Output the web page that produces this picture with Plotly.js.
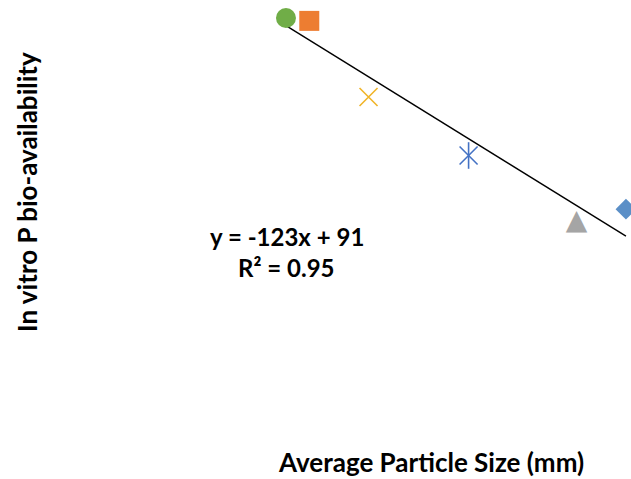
<!DOCTYPE html>
<html>
<head>
<meta charset="utf-8">
<script src="https://cdn.plot.ly/plotly-3.0.1.min.js"></script>
<style>html,body{margin:0;padding:0;background:#fff;}#chart{width:631px;height:479px;}</style>
</head>
<body>
<div id="chart"></div>
<script>
// Data (particle size in mm, in vitro P bio-availability)
var sampleNames = ["Circle", "Square", "Cross", "Star", "Triangle", "Diamond"];
var particleSize = [0.15, 0.174, 0.235, 0.338, 0.449, 0.50];
var bioAvailability = [74.2, 73.6, 58.0, 46.0, 32.3, 35.0];
var equationText = "y = -123x + 91";
var r2Text = "R\u00b2 = 0.95";
var xTitle = "Average Particle Size (mm)";
var yTitle = "In vitro P bio-availability";

// least-squares trendline computed from the data
var n = particleSize.length, mx = 0, my = 0;
for (var i = 0; i < n; i++) { mx += particleSize[i]; my += bioAvailability[i]; }
mx /= n; my /= n;
var sxy = 0, sxx = 0;
for (var i = 0; i < n; i++) { sxy += (particleSize[i]-mx)*(bioAvailability[i]-my); sxx += (particleSize[i]-mx)*(particleSize[i]-mx); }
var slope = sxy / sxx, intercept = my - slope * mx;
var xmin = Math.min.apply(null, particleSize), xmax = Math.max.apply(null, particleSize);

var styles = [
  {symbol: "circle", size: 20, color: "#70AD47", line: {width: 0}},
  {symbol: "square", size: 20, color: "#ED7D31", line: {width: 0}},
  {symbol: "x-thin-open", size: 18, color: "#F0B428", line: {width: 1.6, color: "#F0B428"}},
  {symbol: "x-thin-open", size: 18, color: "#4472C4", line: {width: 1.6, color: "#4472C4"}},
  null,
  {symbol: "diamond", size: 16, color: "#5B8FC7", line: {width: 0}}
];

var traces = [{
  x: [xmin, xmax], y: [slope*xmin + intercept, slope*xmax + intercept],
  mode: "lines", line: {color: "#000000", width: 1.4}, hoverinfo: "skip", showlegend: false
}];
for (var i = 0; i < n; i++) {
  if (styles[i] === null) {
    // Excel-style (taller) triangle drawn as a glyph
    traces.push({x: [particleSize[i]], y: [bioAvailability[i]], mode: "text", name: sampleNames[i],
      text: ["\u25B2"], textposition: "middle center", showlegend: false, cliponaxis: true,
      textfont: {family: "DejaVu Sans", size: 28, color: "#A5A5A5"}});
  } else {
    traces.push({x: [particleSize[i]], y: [bioAvailability[i]], mode: "markers", name: sampleNames[i],
      marker: styles[i], showlegend: false, cliponaxis: true});
  }
}
// vertical arm of the star marker
traces.push({x: [particleSize[3]], y: [bioAvailability[3]], mode: "markers", showlegend: false, hoverinfo: "skip",
  marker: {symbol: "line-ns-open", size: 19, color: "#4472C4", line: {width: 1.6, color: "#4472C4"}}});

var layout = {
  width: 631, height: 479,
  margin: {l: 0, r: 0, t: 0, b: 0},
  paper_bgcolor: "#ffffff", plot_bgcolor: "#ffffff",
  showlegend: false,
  xaxis: {range: [-0.1444, 0.5052], visible: false, fixedrange: true},
  yaxis: {range: [-20.32, 77.88], visible: false, fixedrange: true},
  font: {family: "Lato, 'Open Sans', sans-serif", color: "#000"},
  annotations: [
    {xref: "paper", yref: "paper", x: 287/631, y: 1 - 236/479, text: "<b>" + equationText + "</b>", showarrow: false,
      font: {size: 24, family: "Lato"}, xanchor: "center", yanchor: "middle"},
    {xref: "paper", yref: "paper", x: 286/631, y: 1 - 267/479, text: "<b>" + r2Text + "</b>", showarrow: false,
      font: {size: 24, family: "Lato"}, xanchor: "center", yanchor: "middle"},
    {xref: "paper", yref: "paper", x: 431/631, y: 1 - 462/479, text: "<b>" + xTitle + "</b>", showarrow: false,
      font: {size: 26, family: "Lato"}, xanchor: "center", yanchor: "middle"},
    {xref: "paper", yref: "paper", x: 27/631, y: 1 - 192/479, text: "<b>" + yTitle + "</b>", showarrow: false, textangle: -90,
      font: {size: 26, family: "Lato"}, xanchor: "center", yanchor: "middle"}
  ]
};
Plotly.newPlot("chart", traces, layout, {displayModeBar: false, staticPlot: true});
</script>
</body>
</html>
